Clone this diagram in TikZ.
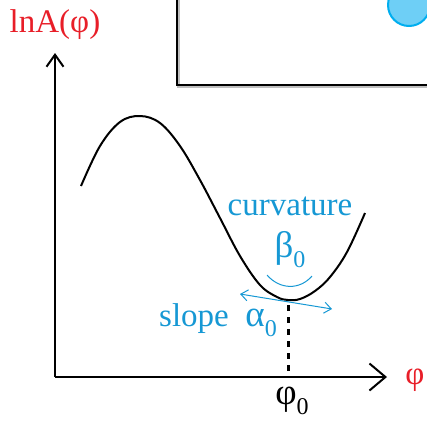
\documentclass[tikz,border=0pt]{standalone}
\usepackage{fontspec}
\setmainfont{Liberation Serif}
\usetikzlibrary{arrows.meta}
\definecolor{axisred}{RGB}{232,30,40}
\definecolor{noteblue}{RGB}{22,152,212}
\definecolor{balllight}{RGB}{110,207,246}
\definecolor{ballrim}{RGB}{0,174,239}
\newcommand{\greek}[1]{{\fontsize{37}{37}\selectfont #1}}
\newcommand{\lowidx}[1]{\raisebox{-10pt}{\fontsize{24}{24}\selectfont #1}}

\begin{document}
\begin{tikzpicture}
				[x=1pt,y=-1pt,
				axis/.style={line width=2pt},
				red label/.style={text=axisred,font=\fontsize{33}{36}\selectfont,inner sep=0pt},
				note/.style={text=noteblue,font=\fontsize{33}{36}\selectfont,inner sep=0pt},
				black label/.style={font=\fontsize{33}{36}\selectfont,inner sep=0pt}]
				\clip (0,0) rectangle (427,421);
				\draw[gray!50,line width=3pt] (178,-10) |- (440,86);
				\draw[line width=2.5pt] (177,-10) |- (440,85);
				\draw[ballrim,fill=balllight,line width=2pt] (409,5) circle[radius=21];
				\coordinate (origin) at (55,377);
				\coordinate (ytip) at (55,53);
				\coordinate (xtip) at (387,377);
				\draw[axis,-{Straight Barb[length=12pt,width=17pt,line width=2pt]}] (origin) -- (ytip);
				\draw[axis,-{Straight Barb[length=16pt,width=27pt,line width=2pt]}] (origin) -- (xtip);
				\node[red label] (ylabel) at (55,25) {lnA(φ)};
				\node[red label] (xlabel) at (415,380) {φ};
				\draw[line width=2pt] plot[smooth,tension=0.6] coordinates
					{(81,186) (100,146) (120,122) (140,116) (160,123) (180,146)
					 (200,180) (220,218) (240,256) (260,285) (277,297) (288,300)
					 (300,299) (315,291) (330,277) (347,252) (365,213)};
				\coordinate (min) at (288,301);
				\coordinate (foot) at (288,377);
				\draw[line width=3pt,dash pattern=on 6pt off 6pt] (min) ++(0,4) -- (foot);
				\node[black label] (phizero) at (292,401) {\greek{φ}\lowidx{0}};
				\coordinate (slopeL) at (240,294);
				\coordinate (slopeR) at (332,309);
				\draw[noteblue,line width=1pt,{Straight Barb[length=7pt,width=11pt]}-{Straight Barb[length=7pt,width=11pt]}] (slopeL) -- (slopeR);
				\node[note] (slope) at (218,320) {slope~~\greek{α}\lowidx{0}};
				\node[note] (curv) at (290,206) {curvature};
				\node[note] (beta) at (290,250) {\greek{β}\lowidx{0}};
				\draw[noteblue,line width=1pt] (267,275) .. controls (280,290) and (300,290) .. (312,276);
			\end{tikzpicture}
\end{document}
